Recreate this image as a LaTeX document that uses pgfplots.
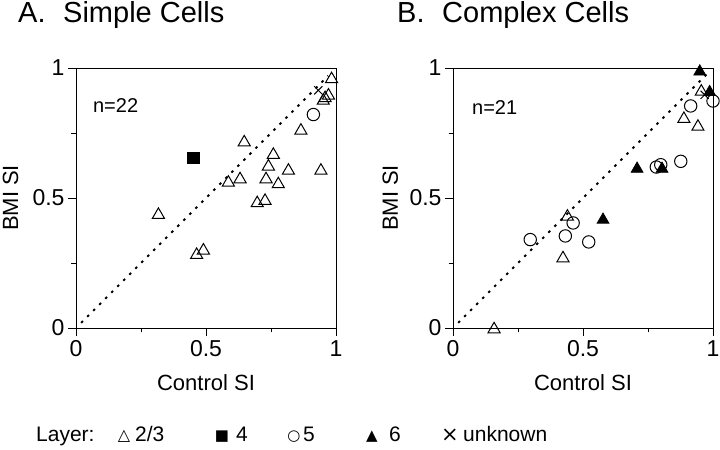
\documentclass[border=0pt]{standalone}
\usepackage{pgfplots}
\pgfplotsset{compat=1.18}
\usepackage{fontspec}
\setmainfont{Liberation Sans}
\newfontfamily\symfont{DejaVu Sans}

\pgfplotsset{
  sipanel/.style={
    scale only axis, width=260bp, height=260bp,
    xmin=0, xmax=1, ymin=0, ymax=1,
    xtick={0,0.5,1}, ytick={0,0.5,1},
    minor xtick={0.25,0.75}, minor ytick={0.25,0.75},
    tick align=outside, tick pos=left,
    major tick length=8bp, minor tick length=4.5bp,
    every tick/.style={black, line width=0.9bp},
    axis line style={line width=0.9bp},
    /pgf/number format/assume math mode=true,
    ticklabel style={font=\fontsize{23bp}{26bp}\selectfont},
    xticklabel style={yshift=-1bp},
    label style={font=\fontsize{22bp}{25bp}\selectfont},
    xlabel={Control SI}, ylabel={BMI SI},
    xlabel style={at={(axis description cs:0.5,-0.242)}, anchor=base},
    clip=false,
  },
  tri/.style={only marks, mark=triangle, mark size=7bp, mark options={line width=1bp, fill=white, draw=black}},
  ftri/.style={only marks, mark=triangle*, mark size=6.8bp, mark options={line width=0.8bp, fill=black, draw=black}},
  circ/.style={only marks, mark=o, mark size=6.2bp, mark options={line width=1bp, draw=black}},
  sq/.style={only marks, mark=square*, mark size=5.8bp, mark options={fill=black, draw=black}},
  crs/.style={only marks, mark=x, mark size=5.8bp, mark options={line width=1bp, draw=black}},
  diag/.style={black, line width=2bp, dash pattern=on 2.5bp off 6bp},
}

\begin{document}
\begin{tikzpicture}[x=1bp,y=1bp]
\useasboundingbox (0,0) rectangle (720,450);

% Titles
\node[anchor=base west, inner sep=0] at (18,427) {\fontsize{29bp}{32bp}\selectfont A.};
\node[anchor=base west, inner sep=0] at (63,427) {\fontsize{29bp}{32bp}\selectfont Simple Cells};
\node[anchor=base west, inner sep=0] at (397,427) {\fontsize{29bp}{32bp}\selectfont B.};
\node[anchor=base west, inner sep=0] at (442,427) {\fontsize{29bp}{32bp}\selectfont Complex Cells};

% Panel A
\begin{axis}[sipanel, at={(76bp,122bp)}, anchor=south west,
  ylabel style={at={(axis description cs:-0.223,0.5)}, anchor=base}]
\addplot[diag] coordinates {(0.02,0.02) (0.97,0.97)};
\addplot[tri] coordinates {
(0.983,0.957) (0.971,0.894) (0.951,0.874) (0.958,0.884)
(0.865,0.759) (0.647,0.714) (0.759,0.666) (0.740,0.621)
(0.817,0.605) (0.942,0.605) (0.631,0.572) (0.586,0.559)
(0.731,0.572) (0.778,0.553) (0.697,0.480) (0.727,0.489)
(0.317,0.435) (0.464,0.281) (0.490,0.298)
};
\addplot[sq] coordinates {(0.451,0.655)};
\addplot[circ] coordinates {(0.913,0.821)};
\addplot[crs] coordinates {(0.932,0.914)};
\node[anchor=base west, inner sep=0, font=\fontsize{20bp}{22bp}\selectfont] at (axis description cs:0.065,0.827) {n=22};
\end{axis}

% Panel B
\begin{axis}[sipanel, at={(453bp,122bp)}, anchor=south west,
  ylabel style={at={(axis description cs:-0.212,0.5)}, anchor=base}]
\addplot[diag] coordinates {(0.02,0.02) (0.99,0.99)};
\addplot[tri] coordinates {
(0.158,-0.005) (0.423,0.268) (0.440,0.428) (0.888,0.804) (0.942,0.774) (0.955,0.909)
};
\addplot[ftri] coordinates {
(0.949,0.986) (0.987,0.907) (0.708,0.612) (0.804,0.612) (0.577,0.416)
};
\addplot[circ] coordinates {
(0.297,0.340) (0.432,0.354) (0.462,0.404) (0.522,0.331) (0.782,0.619)
(0.799,0.628) (0.876,0.641) (0.914,0.854) (1.0,0.873)
};
\addplot[crs] coordinates {(0.968,0.897)};
\node[anchor=base west, inner sep=0, font=\fontsize{20bp}{22bp}\selectfont] at (axis description cs:0.073,0.82) {n=21};
\end{axis}

% Legend
\node[anchor=base west, inner sep=0, font=\fontsize{21bp}{24bp}\selectfont] at (36,8) {Layer:};
\node[anchor=base, inner sep=0, font=\symfont\fontsize{16bp}{18bp}\selectfont] at (124,9) {△};
\node[anchor=base west, inner sep=0, font=\fontsize{21bp}{24bp}\selectfont] at (135,8) {2/3};
\node[anchor=base, inner sep=0, font=\symfont\fontsize{15bp}{18bp}\selectfont] at (222,9) {■};
\node[anchor=base west, inner sep=0, font=\fontsize{21bp}{24bp}\selectfont] at (236,8) {4};
\node[anchor=base, inner sep=0, font=\symfont\fontsize{15bp}{18bp}\selectfont] at (294,9) {○};
\node[anchor=base west, inner sep=0, font=\fontsize{21bp}{24bp}\selectfont] at (303,8) {5};
\node[anchor=base, inner sep=0, font=\symfont\fontsize{15bp}{18bp}\selectfont] at (372,9) {▲};
\node[anchor=base west, inner sep=0, font=\fontsize{21bp}{24bp}\selectfont] at (389,8) {6};
\node[anchor=base, inner sep=0, font=\symfont\fontsize{21bp}{24bp}\selectfont] at (450,8) {×};
\node[anchor=base west, inner sep=0, font=\fontsize{21bp}{24bp}\selectfont] at (463,8) {unknown};
\end{tikzpicture}
\end{document}
